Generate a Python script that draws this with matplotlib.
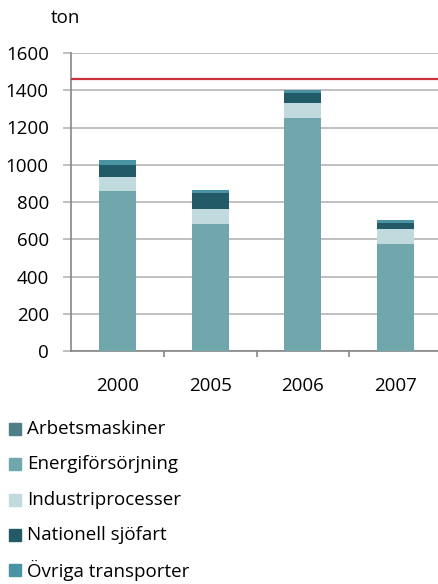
import matplotlib
matplotlib.use("Agg")
import matplotlib.pyplot as plt
from matplotlib.patches import Rectangle
import numpy as np

plt.rcParams['font.family'] = ['Open Sans', 'DejaVu Sans']

years = ["2000", "2005", "2006", "2007"]
series_names = ["Arbetsmaskiner", "Energiförsörjning", "Industriprocesser",
                "Nationell sjöfart", "Övriga transporter"]
arbetsmaskiner = [0, 0, 0, 0]
energiforsorjning = [861, 683, 1249, 574]
industriprocesser = [71, 78, 81, 83]
nationell_sjofart = [68, 86, 57, 32]
ovriga_transporter = [25, 17, 16, 14]
target_level = 1460
y_ticks = [0, 200, 400, 600, 800, 1000, 1200, 1400, 1600]
unit_label = "ton"

colors = ["#4f7f86", "#6fa7ad", "#c0dadd", "#235a68", "#4a93a3"]
data = [arbetsmaskiner, energiforsorjning, industriprocesser,
        nationell_sjofart, ovriga_transporter]

FS = 13.5
W, H = 439, 584
fig = plt.figure(figsize=(W / 100, H / 100), dpi=100)
ax = fig.add_axes([71 / W, 233 / H, 371 / W, 298 / H])

x = np.arange(len(years))
bottom = np.zeros(len(years))
for vals, col in zip(data, colors):
    ax.bar(x, vals, width=0.4, bottom=bottom, color=col, zorder=3,
           edgecolor='none')
    bottom += np.array(vals)

ax.axhline(target_level, color='#c8333b', lw=1.6, zorder=4)

ax.set_xlim(-0.5, 3.5)
ax.set_ylim(0, 1600)
ax.set_yticks(y_ticks)
ax.set_yticklabels([str(v) for v in y_ticks])
ax.set_xticks(x)
ax.set_xticklabels(years)
ax.set_xticks(x[:-1] + 0.5, minor=True)
ax.yaxis.grid(True, color='#b5b5b5', lw=1.2, zorder=0)
ax.set_axisbelow(True)
ax.tick_params(axis='y', length=6, width=1.2, color='#b5b5b5', pad=10,
               labelsize=FS, labelcolor='black')
ax.tick_params(axis='x', which='major', length=0, pad=18.5, labelsize=FS,
               labelcolor='black')
ax.tick_params(axis='x', which='minor', length=4, width=1.2, color='#868686')
for s in ['top', 'right']:
    ax.spines[s].set_visible(False)
ax.spines['left'].set_color('#868686')
ax.spines['bottom'].set_color('#868686')
ax.spines['left'].set_linewidth(1.2)
ax.spines['bottom'].set_linewidth(1.2)

fig.text(51 / W, 1 - 18 / H, unit_label, fontsize=FS, va='center', ha='left')

# legend
row_y = [429, 464, 500, 535, 570]
for name, col, yc in zip(series_names, colors, row_y):
    fig.add_artist(Rectangle((9 / W, 1 - (yc + 6) / H), 12 / W, 12 / H,
                             transform=fig.transFigure, color=col))
    fig.text(27 / W, 1 - yc / H, name, fontsize=FS, va='center', ha='left')

fig.savefig("out.png", dpi=100)
